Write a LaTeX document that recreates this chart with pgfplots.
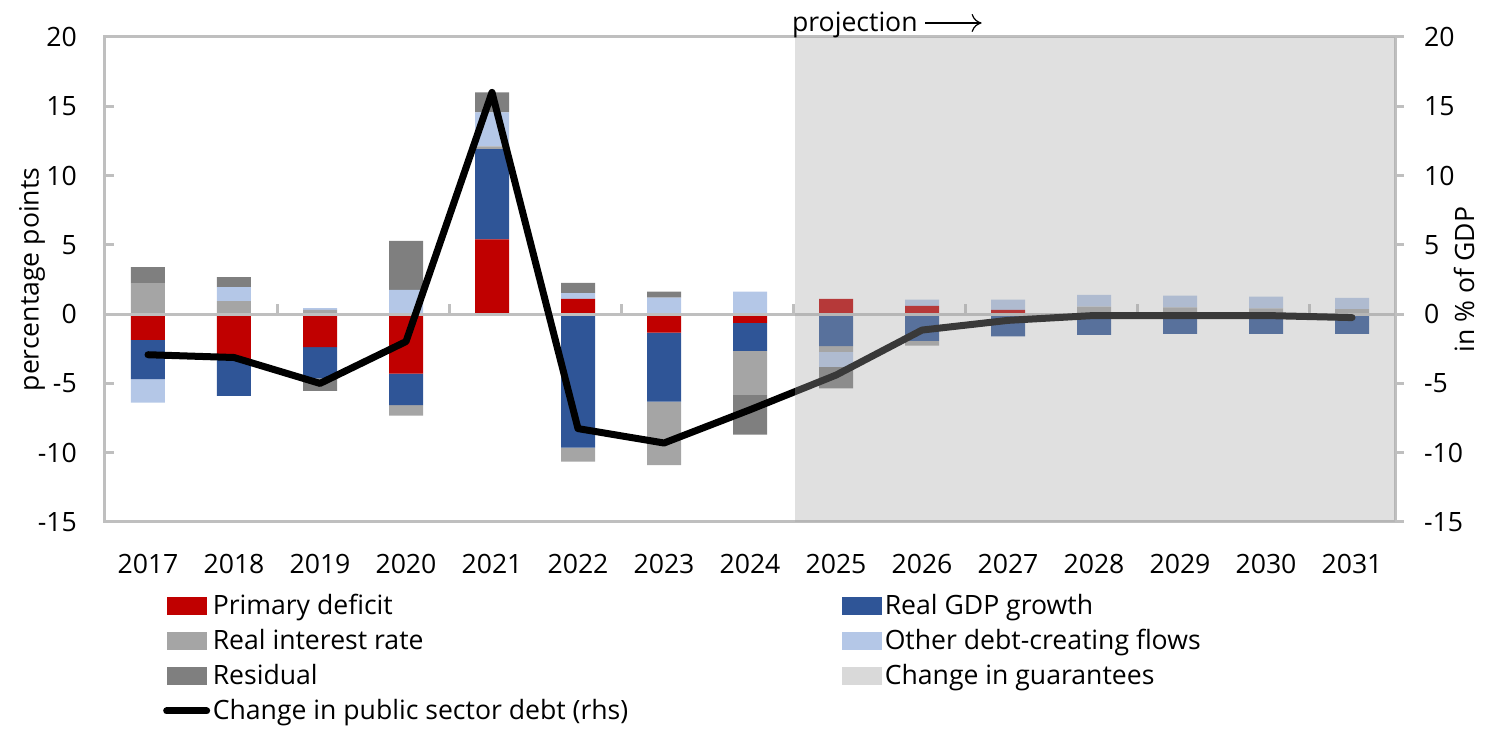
\documentclass[border=0pt]{standalone}
\usepackage{fontspec}
\setmainfont{Open Sans}
\usepackage{pgfplots}
\usepackage{pgfplotstable}
\pgfplotsset{compat=1.18}
\usetikzlibrary{arrows.meta}
\definecolor{cPD}{HTML}{C00000}
\definecolor{cGDP}{HTML}{2F5597}
\definecolor{cRIR}{HTML}{A5A5A5}
\definecolor{cODF}{HTML}{B4C7E7}
\definecolor{cRES}{HTML}{7F7F7F}
\definecolor{cGUA}{HTML}{D9D9D9}
\definecolor{cFrame}{HTML}{BFBFBF}
\definecolor{cShade}{HTML}{A6A6A6}
\newcommand{\fs}{\fontsize{13.3}{16}\selectfont}
\pgfplotsset{
  barlegend/.style={legend image code/.code={\fill[##1] (0pt,-4.5pt) rectangle (20pt,4.5pt); \path (21.3pt,0pt);}},
  linelegend/.style={legend image code/.code={\draw[##1] (0pt,0pt) -- (20pt,0pt); \path (21.3pt,0pt);}},
}
\pgfplotstableread{
year pd    gdp   rir   odf   res   gua
2017 -1.86 -2.83 2.23  -1.69 1.17  0
2018 -3.30 -2.60 0.94  1.01  0.72  0
2019 -2.38 -2.26 0.30  0.13  -0.89 0
2020 -4.30 -2.27 -0.75 1.75  3.54  0
2021 5.40  6.50  0.20  2.46  1.44  0
2022 1.10  -9.63 -1.01 0.42  0.74  0
2023 -1.34 -4.98 -4.58 1.19  0.43  0
2024 -0.63 -2.02 -3.18 1.62  -2.87 0
2025 1.10  -2.30 -0.43 -1.07 -1.56 0
2026 0.60  -1.93 -0.34 0.44  0     0
2027 0.30  -1.60 0     0.74  0     0
2028 0     -1.50 0.55  0.84  0     0
2029 0     -1.42 0.48  0.85  0     0
2030 0     -1.42 0.41  0.85  0     0
2031 0     -1.42 0.36  0.82  0     0
}\bars
\pgfplotstableread{
year debt
2017 -2.93
2018 -3.13
2019 -5.00
2020 -1.98
2021 16.00
2022 -8.26
2023 -9.30
2024 -6.90
2025 -4.40
2026 -1.15
2027 -0.45
2028 -0.10
2029 -0.10
2030 -0.10
2031 -0.25
}\debt
\begin{document}
\begin{tikzpicture}
\path[use as bounding box] (0,0) rectangle (744pt,368.5pt);
\begin{axis}[
  at={(52.5pt,107.5pt)}, anchor=south west, scale only axis,
  width=645pt, height=242.5pt,
  xmin=2016.5, xmax=2031.5, ymin=-15, ymax=20, enlargelimits=false,
  ybar stacked, stack negative=separate, bar width=17pt,
  xtick={2017,2018,...,2031}, ytick={-15,-10,...,20},
  /pgf/number format/assume math mode=true,
  /pgf/number format/1000 sep={},
  x tick label style={font=\fs, yshift=-12.5pt},
  y tick label style={font=\fs, xshift=-10.6pt},
  tick style={draw=cFrame, line width=1.5pt},
  xtick style={draw=none},
  ytick pos=left, ytick align=inside, major tick length=4.5pt,
  axis line style={draw=cFrame, line width=1.5pt},
  ylabel={percentage points},
  ylabel style={font=\fs, at={(axis description cs:-0.0566,0.5)}, anchor=center},
  legend columns=2, legend cell align=left,
  legend style={draw=none, fill=none, inner sep=0pt, outer sep=0pt,
    at={(0.04509,-0.14227)}, anchor=north west,
    row sep=2.5pt, column sep=0pt,
    nodes={inner sep=0pt, outer sep=0pt, font=\fs, text height=12pt, text depth=3pt}},
]
\addplot[fill=cPD, draw=none, forget plot] table[x=year,y=pd]{\bars};
\addplot[fill=cGDP, draw=none, forget plot] table[x=year,y=gdp]{\bars};
\addplot[fill=cRIR, draw=none, forget plot] table[x=year,y=rir]{\bars};
\addplot[fill=cODF, draw=none, forget plot] table[x=year,y=odf]{\bars};
\addplot[fill=cRES, draw=none, forget plot] table[x=year,y=res]{\bars};
\addplot[fill=cGUA, draw=none, forget plot] table[x=year,y=gua]{\bars};
\addlegendimage{barlegend, fill=cPD, draw=none}
\addlegendentry{\makebox[314.7pt][l]{Primary deficit}}
\addlegendimage{barlegend, fill=cGDP, draw=none}
\addlegendentry{Real GDP growth}
\addlegendimage{barlegend, fill=cRIR, draw=none}
\addlegendentry{\makebox[314.7pt][l]{Real interest rate}}
\addlegendimage{barlegend, fill=cODF, draw=none}
\addlegendentry{Other debt-creating flows}
\addlegendimage{barlegend, fill=cRES, draw=none}
\addlegendentry{\makebox[314.7pt][l]{Residual}}
\addlegendimage{barlegend, fill=cGUA, draw=none}
\addlegendentry{Change in guarantees}
\addlegendimage{linelegend, black, line width=3.5pt, line cap=round}
\addlegendentry{\makebox[314.7pt][l]{Change in public sector debt (rhs)}}
\end{axis}
\begin{axis}[
  at={(52.5pt,107.5pt)}, anchor=south west, scale only axis,
  width=645pt, height=242.5pt,
  xmin=2016.5, xmax=2031.5, ymin=-15, ymax=20, enlargelimits=false,
  axis x line=none, axis y line*=right,
  ytick={-15,-10,...,20},
  /pgf/number format/assume math mode=true,
  y tick label style={font=\fs, xshift=6.5pt},
  tick style={draw=cFrame, line width=1.5pt},
  ytick align=outside, major tick length=4.5pt,
  axis line style={draw=cFrame, line width=1.5pt},
  ylabel={in \% of GDP},
  ylabel style={font=\fs, at={(axis description cs:1.0535,0.5)}, anchor=center},
  clip=false,
]
\draw[cFrame, line width=1.5pt] (axis cs:2016.5,0) -- (axis cs:2031.5,0);
\pgfplotsinvokeforeach{2018.5,2020.5,2022.5,2024.5,2026.5,2028.5,2030.5}{
  \draw[cFrame, line width=1.5pt] (axis cs:#1,0) -- ++(0pt,5pt);
}
\addplot[black, line width=3.5pt, line cap=round, line join=round, mark=none] table[x=year,y=debt]{\debt};
\fill[cShade, opacity=0.35] (axis cs:2024.52,-15) rectangle (axis cs:2031.5,20);
\node[anchor=base west, inner sep=0pt, font=\fs] (proj) at ([yshift=2.5pt]axis cs:2024.485,20) {projection};
\draw[-{To[length=5pt,width=9pt]}, line width=0.6pt] ([xshift=3.5pt,yshift=4.5pt]proj.base east) -- ++(28.3pt,0pt);
\end{axis}
\end{tikzpicture}
\end{document}
